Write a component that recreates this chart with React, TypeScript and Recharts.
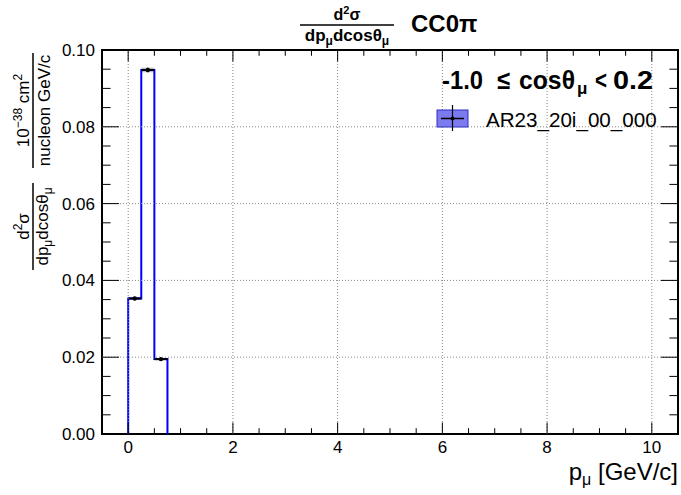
import React from "react";
import {
  ComposedChart,
  XAxis,
  YAxis,
  Line,
  Scatter,
  ErrorBar,
  ReferenceArea,
} from "recharts";

// ---- data ----
const binEdges = [0, 0.25, 0.5, 0.75];
const xsecValues = [0.0353, 0.0948, 0.0195];
const xsecErrors = [0.0004, 0.0006, 0.0003];
const xTicks = [0, 2, 4, 6, 8, 10];
const xTickLabels = ["0", "2", "4", "6", "8", "10"];
const yTicks = [0, 0.02, 0.04, 0.06, 0.08, 0.1];
const yTickLabels = ["0.00", "0.02", "0.04", "0.06", "0.08", "0.10"];
const xDomain = [-0.5, 10.5];
const yDomain = [0, 0.1];
const seriesName = "AR23_20i_00_000";

// histogram outline built from bins
const stepData: { x: number; y: number }[] = [{ x: binEdges[0], y: 0 }];
xsecValues.forEach((v, i) => {
  stepData.push({ x: binEdges[i], y: v });
  stepData.push({ x: binEdges[i + 1], y: v });
});
stepData.push({ x: binEdges[binEdges.length - 1], y: 0 });

const pointData = xsecValues.map((v, i) => ({
  x: (binEdges[i] + binEdges[i + 1]) / 2,
  y: v,
  ex: (binEdges[i + 1] - binEdges[i]) / 2,
  ey: xsecErrors[i],
}));

// all tick positions (major + minor)
const xAllTicks: number[] = [];
for (let k = 0; k <= 20; k++) xAllTicks.push(k * 0.5);
const yAllTicks: number[] = [];
for (let k = 0; k <= 20; k++) yAllTicks.push(+(k * 0.005).toFixed(3));
const majorIndex = (arr: number[], t: number) => arr.findIndex((m) => Math.abs(m - t) < 1e-9);

const FONT = "'Liberation Sans', Arial, Helvetica, sans-serif";
const W = 681;
const H = 495;
const MARGIN = { top: 50, right: 3, bottom: 31, left: 42 };
const X_AXIS_H = 30;
const Y_AXIS_W = 60;
const PLOT_W = W - MARGIN.left - MARGIN.right - Y_AXIS_W;
const PLOT_H = H - MARGIN.top - MARGIN.bottom - X_AXIS_H;
const GRID = { stroke: "#888", strokeDasharray: "1 2", strokeWidth: 1 };

const XTick = (p: any) => {
  const v = Number(p.payload?.value);
  const x = Number(p.x);
  const y0 = Number(p.y);
  const mi = majorIndex(xTicks, v);
  const major = mi >= 0;
  const len = major ? 11.5 : 5.8;
  const interior = v > xDomain[0] && v < xDomain[1];
  return (
    <g>
      {major && interior && <line x1={x} x2={x} y1={y0} y2={y0 - PLOT_H} {...GRID} />}
      {interior && <line x1={x} x2={x} y1={y0} y2={y0 - len} stroke="#000" strokeWidth={1} />}
      {interior && (
        <line x1={x} x2={x} y1={y0 - PLOT_H} y2={y0 - PLOT_H + len} stroke="#000" strokeWidth={1} />
      )}
      {major && (
        <text x={x} y={y0 + 7} dy="0.71em" textAnchor="middle" fontSize={17} fill="#000" fontFamily={FONT}>
          {xTickLabels[mi]}
        </text>
      )}
    </g>
  );
};

const YTick = (p: any) => {
  const v = Number(p.payload?.value);
  const x0 = Number(p.x);
  const y = Number(p.y);
  const mi = majorIndex(yTicks, v);
  const major = mi >= 0;
  const len = major ? 17 : 8.6;
  const interior = v > yDomain[0] + 1e-9 && v < yDomain[1] - 1e-9;
  return (
    <g>
      {major && interior && <line x1={x0} x2={x0 + PLOT_W} y1={y} y2={y} {...GRID} />}
      {interior && <line x1={x0} x2={x0 + len} y1={y} y2={y} stroke="#000" strokeWidth={1} />}
      {interior && (
        <line x1={x0 + PLOT_W} x2={x0 + PLOT_W - len} y1={y} y2={y} stroke="#000" strokeWidth={1} />
      )}
      {major && (
        <text x={x0 - 7} y={y} dy="0.355em" textAnchor="end" fontSize={17} fill="#000" fontFamily={FONT}>
          {yTickLabels[mi]}
        </text>
      )}
    </g>
  );
};

const centre = (p: any): [number, number] => {
  let cx = Number(p.cx);
  let cy = Number(p.cy);
  if (!isFinite(cx)) cx = Number(p.x) + (Number(p.width) || 0) / 2;
  if (!isFinite(cy)) cy = Number(p.y) + (Number(p.height) || 0) / 2;
  return [cx, cy];
};

const DotShape = (p: any) => {
  const [cx, cy] = centre(p);
  if (!isFinite(cx) || !isFinite(cy)) return <g />;
  return <circle cx={cx} cy={cy} r={2.2} fill="#000" />;
};

export default function App() {
  return (
    <div style={{ position: "absolute", left: 0, top: 0, width: W, height: H, background: "#fff" }}>
      <ComposedChart width={W} height={H} margin={MARGIN} style={{ fontFamily: FONT }}>
        <XAxis
          type="number"
          dataKey="x"
          domain={xDomain}
          ticks={xAllTicks}
          interval={0}
          tickFormatter={(v: number) => {
            const i = majorIndex(xTicks, v);
            return i >= 0 ? xTickLabels[i] : "";
          }}
          axisLine={false}
          tickLine={false}
          tickSize={0}
          tickMargin={0}
          height={X_AXIS_H}
          tick={XTick}
        />
        <YAxis
          type="number"
          dataKey="y"
          domain={yDomain}
          ticks={yAllTicks}
          interval={0}
          tickFormatter={(v: number) => {
            const i = majorIndex(yTicks, v);
            return i >= 0 ? yTickLabels[i] : "";
          }}
          axisLine={false}
          tickLine={false}
          tickSize={0}
          tickMargin={0}
          width={Y_AXIS_W}
          tick={YTick}
        />
        {pointData.map((p, i) => (
          <ReferenceArea
            key={"band" + i}
            x1={binEdges[i]}
            x2={binEdges[i + 1]}
            y1={p.y - p.ey}
            y2={p.y + p.ey}
            fill="#8a8ab0"
            fillOpacity={0.55}
            stroke="none"
          />
        ))}
        <Line
          data={stepData}
          dataKey="y"
          type="linear"
          stroke="#0000ff"
          strokeWidth={2}
          dot={false}
          activeDot={false}
          isAnimationActive={false}
          name={seriesName}
        />
        <Scatter data={pointData} dataKey="y" isAnimationActive={false} shape={DotShape}>
          <ErrorBar dataKey="ex" direction="x" width={0} stroke="#000" strokeWidth={2} />
          <ErrorBar dataKey="ey" direction="y" width={0} stroke="#000" strokeWidth={1} />
        </Scatter>
        <ReferenceArea
          x1={xDomain[0]}
          x2={xDomain[1]}
          y1={yDomain[0]}
          y2={yDomain[1]}
          ifOverflow="visible"
          fill="none"
          stroke="#000"
          strokeWidth={2}
        />
      </ComposedChart>
      <svg
        width={W}
        height={H}
        style={{ position: "absolute", left: 0, top: 0, pointerEvents: "none", fontFamily: FONT }}
      >
        {/* title */}
        <text x={347} y={20} textAnchor="middle" fontWeight="bold" fontSize={16}>
          d<tspan dy={-6} fontSize={11}>2</tspan>
          <tspan dy={6}>σ</tspan>
        </text>
        <line x1={300} x2={394} y1={25} y2={25} stroke="#000" strokeWidth={1.5} />
        <text x={347} y={41} textAnchor="middle" fontWeight="bold" fontSize={17}>
          dp<tspan dy={4} fontSize={12}>μ</tspan>
          <tspan dy={-4}>dcosθ</tspan>
          <tspan dy={4} fontSize={12}>μ</tspan>
        </text>
        <text x={411} y={32} fontWeight="bold" fontSize={24}>
          CC0π
        </text>

        {/* range label */}
        <g fontWeight="bold" fontSize={26}>
          <text x={442} y={89} textLength={41} lengthAdjust="spacingAndGlyphs">-1.0</text>
          <text x={497} y={89} textLength={13} lengthAdjust="spacingAndGlyphs">≤</text>
          <text x={519} y={89} textLength={56} lengthAdjust="spacingAndGlyphs">cosθ</text>
          <text x={577} y={94} fontSize={17}>μ</text>
          <text x={595} y={89} textLength={12} lengthAdjust="spacingAndGlyphs">&lt;</text>
          <text x={613} y={89} textLength={40} lengthAdjust="spacingAndGlyphs">0.2</text>
        </g>

        {/* legend */}
        <rect x={437} y={110} width={31} height={17} fill="#7b7bef" stroke="#3030c0" strokeWidth={1} />
        <line x1={441} x2={464} y1={118.5} y2={118.5} stroke="#000" strokeWidth={1.5} />
        <line x1={452.5} x2={452.5} y1={105} y2={131} stroke="#000" strokeWidth={1.2} />
        <circle cx={452.5} cy={118.5} r={2} fill="#000" />
        <text x={486} y={127} fontSize={20.6}>
          {seriesName}
        </text>

        {/* y-axis label */}
        <g transform="translate(29,110.5) rotate(-90)">
          <text textAnchor="middle" fontSize={17}>
            10<tspan dy={-7} fontSize={12}>−38</tspan>
            <tspan dy={7}> cm</tspan>
            <tspan dy={-7} fontSize={12}>2</tspan>
          </text>
        </g>
        <line x1={33} x2={33} y1={53} y2={168} stroke="#000" strokeWidth={1.5} />
        <g transform="translate(50,110.5) rotate(-90)">
          <text textAnchor="middle" fontSize={17}>
            nucleon GeV/c
          </text>
        </g>
        <g transform="translate(29,226.5) rotate(-90)">
          <text textAnchor="middle" fontSize={17}>
            d<tspan dy={-7} fontSize={12}>2</tspan>
            <tspan dy={7}>σ</tspan>
          </text>
        </g>
        <line x1={33} x2={33} y1={183} y2={270} stroke="#000" strokeWidth={1.5} />
        <g transform="translate(48,226.5) rotate(-90)">
          <text textAnchor="middle" fontSize={17}>
            dp<tspan dy={4} fontSize={12}>μ</tspan>
            <tspan dy={-4}>dcosθ</tspan>
            <tspan dy={4} fontSize={12}>μ</tspan>
          </text>
        </g>

        {/* x-axis label */}
        <text x={678} y={480} textAnchor="end" fontSize={24}>
          p<tspan dy={5} fontSize={16}>μ</tspan>
          <tspan dy={-5}> [GeV/c]</tspan>
        </text>
      </svg>
    </div>
  );
}
